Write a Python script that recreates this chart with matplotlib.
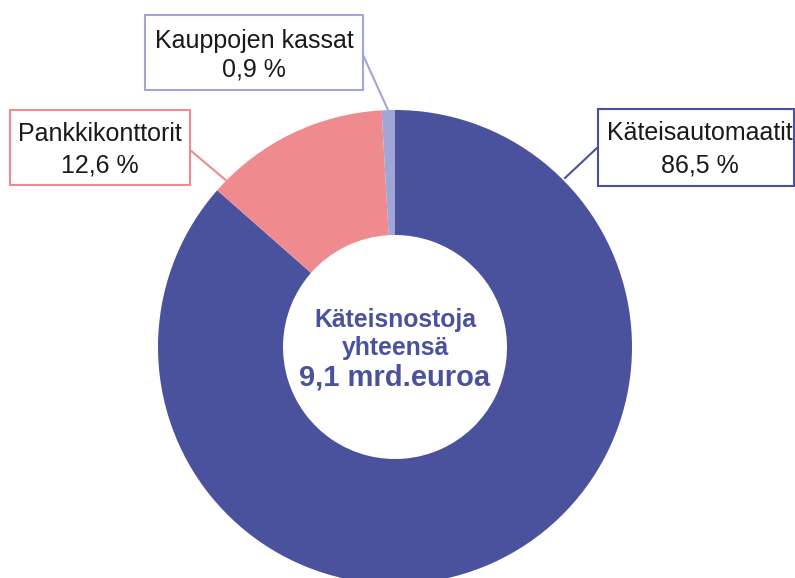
import matplotlib
matplotlib.use("Agg")
import matplotlib.pyplot as plt
from matplotlib.patches import Rectangle

categories = ["Käteisautomaatit", "Pankkikonttorit", "Kauppojen kassat"]
values = [86.5, 12.6, 0.9]
colors = ["#4a529e", "#ef8a8f", "#a2a5d6"]
center_lines = ["Käteisnostoja", "yhteensä", "9,1 mrd.euroa"]

W, H = 795, 578
fig = plt.figure(figsize=(W / 100, H / 100), dpi=100)
ax = fig.add_axes([0, 0, 1, 1])

def Y(y):
    return H - y

cx, cy, R, w = 395, Y(347), 237, 125
ax.pie(values, colors=colors, startangle=90, counterclock=False,
       radius=R, center=(cx, cy),
       wedgeprops=dict(width=w, linewidth=0))
ax.set_xlim(0, W)
ax.set_ylim(0, H)
ax.set_aspect("equal")
ax.axis("off")

font = "Liberation Sans"

# center text
ax.text(cx, Y(320), center_lines[0], ha="center", va="center", fontsize=17.8,
        fontweight="bold", color=colors[0], family=font)
ax.text(cx, Y(348), center_lines[1], ha="center", va="center", fontsize=17.8,
        fontweight="bold", color=colors[0], family=font)
ax.text(cx, Y(378), center_lines[2], ha="center", va="center", fontsize=21,
        fontweight="bold", color=colors[0], family=font)

def fmt(v):
    return f"{v:.1f} %".replace(".", ",")

# label boxes: (x0, y0, x1, y1), text center x, line y's, leader line
boxes = [
    dict(box=(598, 109, 794, 186), tx=700, ty=(133, 165), line=((598, 147), (565, 178))),
    dict(box=(10, 110, 190, 185), tx=100, ty=(134, 165), line=((190, 150), (228, 182))),
    dict(box=(145, 15, 363, 90), tx=254, ty=(41, 70), line=((363, 55), (388, 110))),
]

for i, b in enumerate(boxes):
    x0, y0, x1, y1 = b["box"]
    ax.add_patch(Rectangle((x0, Y(y1)), x1 - x0, y1 - y0, fill=True,
                           facecolor="white", edgecolor=colors[i], linewidth=1.5,
                           zorder=3))
    (lx0, ly0), (lx1, ly1) = b["line"]
    ax.plot([lx0, lx1], [Y(ly0), Y(ly1)], color=colors[i], linewidth=1.5, zorder=2)
    ax.text(b["tx"], Y(b["ty"][0]), categories[i], ha="center", va="center",
            fontsize=18, color="#1a1a1a", family=font, zorder=4)
    ax.text(b["tx"], Y(b["ty"][1]), fmt(values[i]), ha="center", va="center",
            fontsize=18, color="#1a1a1a", family=font, zorder=4)

fig.savefig("out.png", dpi=100)
